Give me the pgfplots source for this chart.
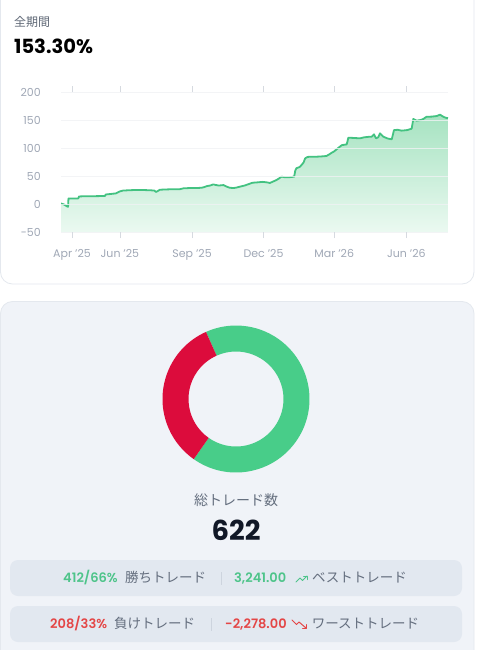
\documentclass[border=0pt]{standalone}
\usepackage{pgfplots}
\pgfplotsset{compat=1.18}
\usepackage{pgfplotstable}
\usepackage{fontspec}
\setmainfont{Poppins}
\newfontfamily\popsb{Poppins SemiBold}
\newfontfamily\jp{Noto Sans CJK JP}

\definecolor{linec}{RGB}{67,194,129}
\definecolor{filltop}{RGB}{166,227,193}
\definecolor{fillbot}{RGB}{235,249,241}
\definecolor{gridc}{RGB}{240,242,244}
\definecolor{tickc}{RGB}{214,218,224}
\definecolor{labelc}{RGB}{160,168,182}
\definecolor{titlec}{RGB}{95,104,118}
\definecolor{cardbg}{RGB}{240,243,248}
\definecolor{cardline}{RGB}{228,232,238}
\definecolor{boxbg}{RGB}{226,232,240}
\definecolor{wingreen}{RGB}{72,205,137}
\definecolor{lossred}{RGB}{220,12,60}
\definecolor{txtgreen}{RGB}{78,196,138}
\definecolor{txtred}{RGB}{228,70,70}
\definecolor{txtgray}{RGB}{100,110,126}
\definecolor{sepc}{RGB}{205,212,222}
\definecolor{darktxt}{RGB}{17,24,39}

% cumulative return (%) by day, day 0 = 1 Apr 2025
\pgfplotstableread{
day val
-14 1
-10 -1
-6 -4.5
-5 -5
-4.5 10
3 10
8 10
9 13.5
20 14
30 14
42 14.3
43 17
50 18
56 19
58 20.5
61 22.5
65 24
72 24.5
80 25
90 25
100 24.5
105 24
107 21.5
109 23
112 25.5
120 26
130 26.5
137 26.3
142 28
150 28.5
158 28.5
165 29
168 30
172 32
176 33
180 35
183 34
187 33
193 33.8
197 31
201 29
206 28.5
210 29.5
214 31
220 33
225 35.5
230 38
235 38.5
243 39.5
249 38.5
252 37.5
256 40
260 42.5
263 45
267 48.8
272 47.6
278 48
283 48.8
284.5 60
286 64
290 66
292.6 70
295 74
297 81.5
300 84
304 84.5
312 84.5
318 85
324 85.7
327 88
331 91.7
334 94
337 97.6
340 101
343.6 105
349.9 106.5
351 112
352 118.4
358 118
366.9 117.3
372 119
378 120
381.8 120.2
384.7 124.4
387.3 117.3
390 119
392.4 126.2
396.6 120.2
402 117
407.3 115.5
409 125
410.2 132
415 132.5
420 131
427 132
432.7 134.5
434.8 151.8
439 148.8
444 150
447.5 151.8
451.8 155.9
458 156
464.6 157.1
468.8 159.5
473 155.9
476 154
479 153.3
}\equity

% trade counts
\def\wins{412}
\def\losses{208}

\begin{document}
\begin{tikzpicture}
% page
\fill[white] (0pt,0pt) rectangle (482pt,-650pt);
\path[use as bounding box] (0pt,0pt) rectangle (482pt,-650pt);

% top card
\draw[draw=cardline, fill=white, rounded corners=12pt, line width=0.8pt] (0.5pt,14pt) rectangle (474pt,-284pt);
\node[anchor=base west, inner sep=0pt, text=titlec, font=\jp\fontsize{12}{14}\selectfont] at (14pt,-27pt) {全期間};
\node[anchor=base west, inner sep=0pt, text=black, font=\bfseries\fontsize{19.5}{22}\selectfont] at (14pt,-54pt) {153.30\%};

\begin{axis}[
  at={(61pt,-232pt)}, anchor=south west,
  scale only axis, width=387pt, height=140pt,
  xmin=-14, xmax=479, ymin=-50, ymax=200,
  ytick={-50,0,50,100,150,200},
  xtick={0,61,153,244,334,426},
  xticklabels={Apr '25,Jun '25,Sep '25,Dec '25,Mar '26,Jun '26},
  axis line style={draw=none},
  axis on top,
  ymajorgrids, grid style={draw=gridc, line width=0.7pt, opacity=0.8},
  tick align=outside, major tick length=6pt,
  xtick style={draw=tickc, line width=0.7pt},
  ytick style={draw=none},
  ticklabel style={font=\fontsize{11}{13}\selectfont, text=labelc},
  /pgf/number format/assume math mode=true,
  yticklabel style={anchor=east, inner sep=0pt, xshift=-14pt},
  xticklabel style={anchor=base, inner sep=0pt, yshift=-19pt},
]
\addplot[draw=none, top color=filltop, bottom color=fillbot] table[x=day,y=val] {\equity} -- (axis cs:479,-50) -- (axis cs:-14,-50) -- cycle;
\addplot[draw=linec, line width=1.8pt, line join=round, mark=none] table[x=day,y=val] {\equity};
\end{axis}

% bottom card
\draw[draw=cardline, fill=cardbg, rounded corners=12pt, line width=0.8pt] (0.5pt,-301.5pt) rectangle (474pt,-690pt);

% donut
\pgfmathsetmacro{\redspan}{360*(\losses/(\wins+\losses))}
\pgfmathsetmacro{\ra}{174.5-\redspan/2}
\pgfmathsetmacro{\rb}{174.5+\redspan/2}
\pgfmathsetmacro{\gb}{\ra+360}
\begin{scope}[shift={(236pt,-399pt)}]
  \fill[wingreen] (\rb:73.5pt) arc[start angle=\rb, end angle=\gb, radius=73.5pt]
     -- (\gb:47.5pt) arc[start angle=\gb, end angle=\rb, radius=47.5pt] -- cycle;
  \fill[lossred] (\ra:73.5pt) arc[start angle=\ra, end angle=\rb, radius=73.5pt]
     -- (\rb:47.5pt) arc[start angle=\rb, end angle=\ra, radius=47.5pt] -- cycle;
\end{scope}

\node[anchor=center, inner sep=0pt, text=txtgray, font=\jp\fontsize{14}{16}\selectfont] at (236pt,-500pt) {総トレード数};
\node[anchor=base, inner sep=0pt, text=darktxt, font=\bfseries\fontsize{27.5}{30}\selectfont] at (236pt,-540pt) {622};

% win / best box
\fill[boxbg, rounded corners=8pt] (10pt,-560pt) rectangle (462pt,-596pt);
\node[anchor=base west, inner sep=0pt, text=txtgreen, font=\popsb\fontsize{13}{15}\selectfont] at (63pt,-582pt) {412/66\%};
\node[anchor=base west, inner sep=0pt, text=txtgray, font=\jp\fontsize{13.5}{15}\selectfont] at (125pt,-582pt) {勝ちトレード};
\draw[sepc, line width=0.8pt] (221pt,-572pt) -- (221pt,-585pt);
\node[anchor=base west, inner sep=0pt, text=txtgreen, font=\popsb\fontsize{13}{15}\selectfont] at (234pt,-582pt) {3,241.00};
\draw[txtgreen, line width=1pt, line join=round, line cap=round] (296pt,-582pt) -- (300pt,-578pt) -- (302.5pt,-580.5pt) -- (307pt,-576pt);
\draw[txtgreen, line width=1pt, line join=round, line cap=round] (303.5pt,-576pt) -- (307pt,-576pt) -- (307pt,-579.5pt);
\node[anchor=base west, inner sep=0pt, text=txtgray, font=\jp\fontsize{13.5}{15}\selectfont] at (312pt,-582pt) {ベストトレード};

% loss / worst box
\fill[boxbg, rounded corners=8pt] (10pt,-606pt) rectangle (462pt,-642pt);
\node[anchor=base west, inner sep=0pt, text=txtred, font=\popsb\fontsize{13}{15}\selectfont] at (50pt,-628pt) {208/33\%};
\node[anchor=base west, inner sep=0pt, text=txtgray, font=\jp\fontsize{13.5}{15}\selectfont] at (114pt,-628pt) {負けトレード};
\draw[sepc, line width=0.8pt] (211.7pt,-618pt) -- (211.7pt,-631pt);
\node[anchor=base west, inner sep=0pt, text=txtred, font=\popsb\fontsize{13}{15}\selectfont] at (225pt,-628pt) {-2,278.00};
\draw[txtred, line width=1pt, line join=round, line cap=round] (292pt,-620pt) -- (296.5pt,-624.5pt) -- (299pt,-622pt) -- (306pt,-628pt);
\draw[txtred, line width=1pt, line join=round, line cap=round] (302.5pt,-628pt) -- (306pt,-628pt) -- (306pt,-624.5pt);
\node[anchor=base west, inner sep=0pt, text=txtgray, font=\jp\fontsize{13.5}{15}\selectfont] at (311.7pt,-628pt) {ワーストトレード};
\end{tikzpicture}
\end{document}
